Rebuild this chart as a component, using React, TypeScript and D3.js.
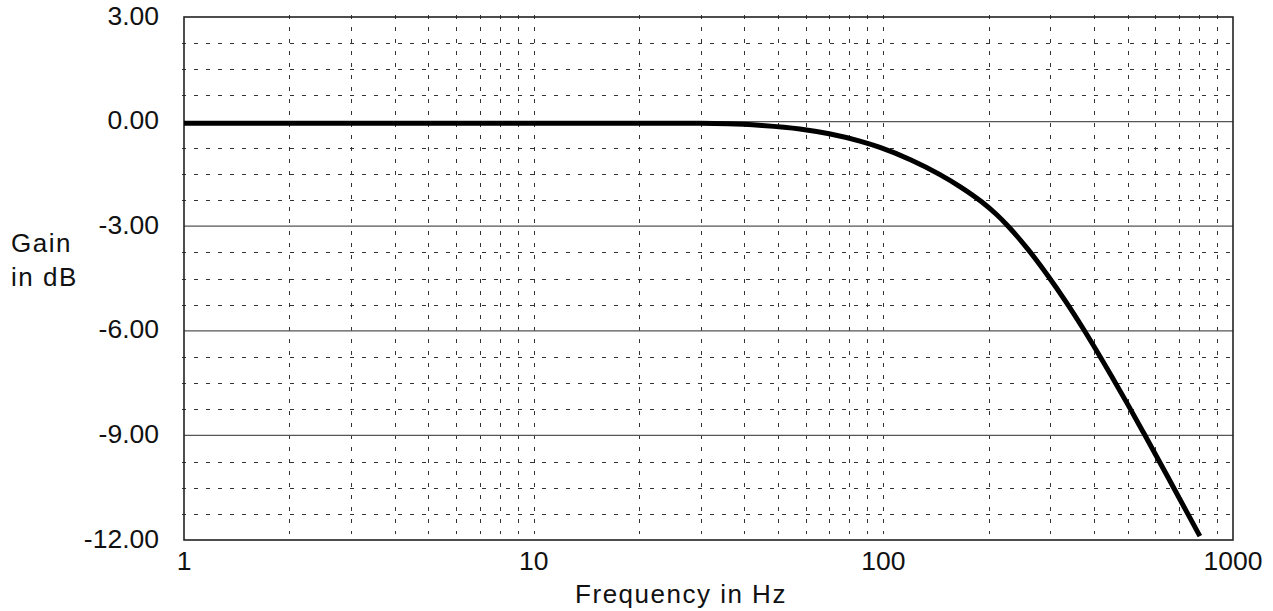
import React from "react";
import * as d3 from "d3";

// ---- data ----
const freqHz = [1, 10, 20, 30, 36, 45, 57.7, 70, 85.7, 97.8, 120, 145.2, 166, 191, 210, 227.5, 260, 298, 334, 373, 450, 500, 556, 650, 736, 804];
const gainDb = [-0.05, -0.05, -0.05, -0.05, -0.06, -0.11, -0.21, -0.35, -0.56, -0.74, -1.1, -1.52, -1.87, -2.3, -2.65, -3.0, -3.68, -4.47, -5.19, -5.94, -7.31, -8.11, -8.94, -10.18, -11.18, -11.89];
const yMajorTicks = [3, 0, -3, -6, -9, -12];
const yTickLabels = ["3.00", "0.00", "-3.00", "-6.00", "-9.00", "-12.00"];
const xMajorTicks = [1, 10, 100, 1000];
const xTickLabels = ["1", "10", "100", "1000"];
const xTitle = "Frequency in Hz";
const yTitleLines = ["Gain", "in dB"];

const W = 1273;
const H = 611;
const L = 184, R = 1233, T = 17, B = 540;

export default function App() {
  const x = d3.scaleLog().domain([1, 1000]).range([L, R]);
  const y = d3.scaleLinear().domain([-12, 3]).range([B, T]);

  const xGrid: number[] = [];
  for (let dec = 1; dec < 1000; dec *= 10) {
    for (let m = 1; m <= 9; m++) {
      const v = dec * m;
      if (v > 1 && v < 1000) xGrid.push(v);
    }
  }
  const yMinor = d3.range(-12, 3.0001, 0.75).filter((v) => Math.abs(v / 3 - Math.round(v / 3)) > 1e-6);

  const pts: [number, number][] = freqHz.map((f, i) => [x(f), y(gainDb[i])]);
  const line = d3.line().curve(d3.curveMonotoneX)(pts) || "";

  const font = "'Liberation Sans', Arial, sans-serif";

  return (
    <svg width={W} height={H} style={{ position: "absolute", left: 0, top: 0, background: "#fff" }} fontFamily={font}>
      <rect x={0} y={0} width={W} height={H} fill="#fff" />
      {yMinor.map((v, i) => (
        <line key={"hy" + i} x1={L - 2} x2={R - 2} y1={Math.round(y(v)) + 0.5} y2={Math.round(y(v)) + 0.5}
          stroke="#333" strokeWidth={1} strokeDasharray="4,8" />
      ))}
      {xGrid.map((v, i) => (
        <line key={"vx" + i} x1={Math.round(x(v)) + 0.5} x2={Math.round(x(v)) + 0.5} y1={T - 2} y2={B - 6}
          stroke="#333" strokeWidth={1} strokeDasharray="4,8" />
      ))}
      {yMajorTicks.filter((v) => v !== 3 && v !== -12).map((v, i) => (
        <line key={"my" + i} x1={L} x2={R} y1={y(v)} y2={y(v)} stroke="#555" strokeWidth={1.3} />
      ))}
      <rect x={L} y={T} width={R - L} height={B - T} fill="none" stroke="#222" strokeWidth={1.6} />
      <path d={line} fill="none" stroke="#000" strokeWidth={5} strokeLinejoin="round" />
      {yMajorTicks.map((v, i) => (
        <text key={"yl" + i} x={159} y={y(v) + 7.5} textAnchor="end" fontSize={26.5} fill="#111">
          {yTickLabels[i]}
        </text>
      ))}
      {xMajorTicks.map((v, i) => (
        <text key={"xl" + i} x={x(v)} y={570} textAnchor="middle" fontSize={26.5} fill="#111">
          {xTickLabels[i]}
        </text>
      ))}
      <text x={681} y={603} textAnchor="middle" fontSize={26} letterSpacing={1.5} fill="#111">
        {xTitle}
      </text>
      {yTitleLines.map((t, i) => (
        <text key={"yt" + i} x={11} y={251.5 + i * 34} fontSize={26} letterSpacing={1.5} fill="#111">
          {t}
        </text>
      ))}
    </svg>
  );
}
